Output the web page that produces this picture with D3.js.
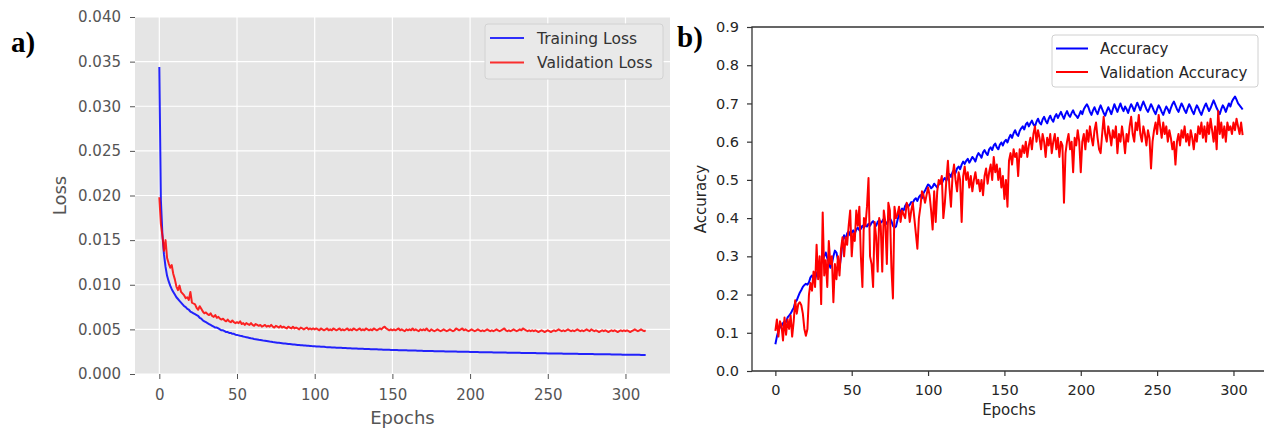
<!DOCTYPE html>
<html>
<head>
<meta charset="utf-8">
<script src="https://cdn.jsdelivr.net/npm/d3@7"></script>
<style>
  body { margin: 0; background: #fff; }
  svg { display: block; }
</style>
</head>
<body>
<svg id="chart" width="1264" height="431"></svg>
<script>
// ---- Panel a: loss per epoch ----
const trainLoss = [
  0.0344, 0.0195, 0.0156, 0.0134, 0.0120, 0.0110, 0.0104, 0.0099, 0.0095, 0.0092,
  0.0089, 0.0086, 0.0084, 0.0082, 0.0080, 0.0078, 0.0076, 0.0075, 0.0073, 0.0072,
  0.0070, 0.0069, 0.0068, 0.0067, 0.0066, 0.0065, 0.0063, 0.0062, 0.0060, 0.0059,
  0.0058, 0.0057, 0.0056, 0.0055, 0.0054, 0.0053, 0.0052, 0.0052, 0.0051, 0.0050,
  0.0049, 0.0049, 0.0048, 0.0047, 0.0047, 0.0046, 0.0046, 0.0045, 0.0045, 0.0044,
  0.00438, 0.00433, 0.00428, 0.00425, 0.00420, 0.00416, 0.00412, 0.00408, 0.00404, 0.00400,
  0.00397, 0.00393, 0.00390, 0.00387, 0.00383, 0.00380, 0.00377, 0.00374, 0.00372, 0.00369,
  0.00366, 0.00363, 0.00361, 0.00358, 0.00356, 0.00354, 0.00351, 0.00349, 0.00347, 0.00345,
  0.00343, 0.00341, 0.00339, 0.00337, 0.00335, 0.00333, 0.00331, 0.00330, 0.00328, 0.00326,
  0.00325, 0.00323, 0.00322, 0.00320, 0.00319, 0.00317, 0.00316, 0.00315, 0.00313, 0.00312,
  0.00311, 0.00309, 0.00308, 0.00307, 0.00306, 0.00305, 0.00304, 0.00302, 0.00301, 0.00300,
  0.00299, 0.00298, 0.00297, 0.00296, 0.00295, 0.00294, 0.00293, 0.00293, 0.00292, 0.00291,
  0.00290, 0.00289, 0.00288, 0.00288, 0.00287, 0.00286, 0.00285, 0.00285, 0.00284, 0.00283,
  0.00282, 0.00282, 0.00281, 0.00280, 0.00280, 0.00279, 0.00278, 0.00278, 0.00277, 0.00276,
  0.00276, 0.00275, 0.00274, 0.00274, 0.00273, 0.00273, 0.00272, 0.00271, 0.00271, 0.00270,
  0.00270, 0.00269, 0.00268, 0.00268, 0.00267, 0.00267, 0.00266, 0.00266, 0.00265, 0.00265,
  0.00264, 0.00264, 0.00263, 0.00263, 0.00262, 0.00262, 0.00261, 0.00261, 0.00260, 0.00260,
  0.00259, 0.00259, 0.00258, 0.00258, 0.00258, 0.00257, 0.00257, 0.00256, 0.00256, 0.00255,
  0.00255, 0.00255, 0.00254, 0.00254, 0.00253, 0.00253, 0.00253, 0.00252, 0.00252, 0.00251,
  0.00251, 0.00251, 0.00250, 0.00250, 0.00250, 0.00249, 0.00249, 0.00248, 0.00248, 0.00248,
  0.00247, 0.00247, 0.00247, 0.00246, 0.00246, 0.00246, 0.00245, 0.00245, 0.00245, 0.00244,
  0.00244, 0.00244, 0.00243, 0.00243, 0.00243, 0.00242, 0.00242, 0.00242, 0.00241, 0.00241,
  0.00241, 0.00240, 0.00240, 0.00240, 0.00239, 0.00239, 0.00239, 0.00238, 0.00238, 0.00238,
  0.00237, 0.00237, 0.00237, 0.00236, 0.00236, 0.00236, 0.00236, 0.00235, 0.00235, 0.00235,
  0.00234, 0.00234, 0.00234, 0.00233, 0.00233, 0.00233, 0.00232, 0.00232, 0.00232, 0.00232,
  0.00231, 0.00231, 0.00231, 0.00230, 0.00230, 0.00230, 0.00229, 0.00229, 0.00229, 0.00229,
  0.00228, 0.00228, 0.00228, 0.00227, 0.00227, 0.00227, 0.00226, 0.00226, 0.00226, 0.00226,
  0.00225, 0.00225, 0.00225, 0.00224, 0.00224, 0.00224, 0.00224, 0.00223, 0.00223, 0.00223,
  0.00222, 0.00222, 0.00222, 0.00222, 0.00221, 0.00221, 0.00221, 0.00220, 0.00220, 0.00220,
  0.00220, 0.00219, 0.00219, 0.00219, 0.00219, 0.00218, 0.00218, 0.00218, 0.00217, 0.00217,
  0.00217, 0.00217, 0.00216, 0.00216, 0.00216, 0.00216, 0.00215, 0.00215, 0.00215, 0.00215,
  0.00214, 0.00214, 0.00214, 0.00214
];

const valLoss = [
  0.0198, 0.0168, 0.0155, 0.0138, 0.0150, 0.0130, 0.0124, 0.0119, 0.0122, 0.0112,
  0.0106, 0.0098, 0.0094, 0.0099, 0.0092, 0.0090, 0.0088, 0.0085, 0.0086, 0.0083,
  0.0092, 0.0080, 0.0079, 0.0078, 0.0074, 0.0072, 0.0076, 0.0073, 0.0070, 0.0068,
  0.0069, 0.0067, 0.0066, 0.0068, 0.0065, 0.0064, 0.0066, 0.0063, 0.0064, 0.0062,
  0.0061, 0.0062, 0.0060, 0.0059, 0.0061, 0.0059, 0.0058, 0.0060, 0.0058, 0.0057,
  0.0058, 0.0057, 0.0059, 0.0056, 0.0057, 0.0055, 0.0057, 0.0056, 0.0055, 0.0057,
  0.0055, 0.0054, 0.0056, 0.0055, 0.0054, 0.0055, 0.0053, 0.0054, 0.0055, 0.0053,
  0.0054, 0.0053, 0.0055, 0.0053, 0.0052, 0.0054, 0.0053, 0.0052, 0.0054, 0.0052,
  0.0053, 0.0052, 0.0051, 0.0053, 0.0052, 0.0051, 0.0053, 0.0051, 0.0052, 0.0051,
  0.0050, 0.0052, 0.0051, 0.0050, 0.0051, 0.0052, 0.0050, 0.0051, 0.0050, 0.0051,
  0.0050, 0.0051, 0.0050, 0.0049, 0.0051, 0.0050, 0.0049, 0.0050, 0.0051, 0.0049,
  0.0050, 0.0049, 0.0051, 0.0050, 0.0049, 0.0050, 0.0051, 0.0049, 0.0050, 0.0049,
  0.0050, 0.0051, 0.0049, 0.0050, 0.0049, 0.0051, 0.0050, 0.0049, 0.0050, 0.0051,
  0.0049, 0.0050, 0.0049, 0.0051, 0.0050, 0.0049, 0.0050, 0.0049, 0.0051, 0.0050,
  0.0049, 0.0050, 0.0051, 0.0050, 0.0052, 0.0053, 0.0051, 0.0050, 0.0049, 0.0050,
  0.0049, 0.0050, 0.0049, 0.0050, 0.0051, 0.0049, 0.0050, 0.0049, 0.0048, 0.0050,
  0.0049, 0.0050, 0.0049, 0.0051, 0.0049, 0.0050, 0.0049, 0.0048, 0.0050, 0.0049,
  0.0050, 0.0049, 0.0051, 0.0049, 0.0048, 0.0050, 0.0049, 0.0048, 0.0049, 0.0050,
  0.0049, 0.0048, 0.0049, 0.0050, 0.0049, 0.0048, 0.0049, 0.0050, 0.0049, 0.0048,
  0.0049, 0.0051, 0.0050, 0.0049, 0.0050, 0.0051, 0.0049, 0.0050, 0.0049, 0.0048,
  0.0049, 0.0050, 0.0049, 0.0048, 0.0049, 0.0050, 0.0049, 0.0048, 0.0049, 0.0048,
  0.0049, 0.0050, 0.0049, 0.0048, 0.0049, 0.0048, 0.0049, 0.0050, 0.0049, 0.0048,
  0.0049, 0.0050, 0.0051, 0.0049, 0.0048, 0.0049, 0.0048, 0.0049, 0.0050, 0.0049,
  0.0048, 0.0049, 0.0050, 0.0049, 0.0051, 0.0050, 0.0049, 0.0048, 0.0049, 0.0048,
  0.0049, 0.0048, 0.0049, 0.0048, 0.0047, 0.0048, 0.0049, 0.0048, 0.0047, 0.0048,
  0.0049, 0.0048, 0.0047, 0.0048, 0.0049, 0.0048, 0.0049, 0.0050, 0.0049, 0.0048,
  0.0049, 0.0048, 0.0049, 0.0050, 0.0049, 0.0048, 0.0049, 0.0048, 0.0049, 0.0050,
  0.0049, 0.0048, 0.0049, 0.0048, 0.0049, 0.0050, 0.0049, 0.0048, 0.0050, 0.0049,
  0.0048, 0.0049, 0.0048, 0.0047, 0.0048, 0.0049, 0.0048, 0.0049, 0.0048, 0.0047,
  0.0048, 0.0049, 0.0048, 0.0049, 0.0048, 0.0047, 0.0048, 0.0049, 0.0048, 0.0049,
  0.0048, 0.0049, 0.0048, 0.0047, 0.0048, 0.0049, 0.0050, 0.0049, 0.0048, 0.0049,
  0.0050, 0.0049, 0.0048, 0.0049
];

// ---- Panel b: accuracy per epoch ----
const trainAcc = [
  0.070, 0.090, 0.105, 0.115, 0.118, 0.125, 0.130, 0.128, 0.140, 0.145,
  0.150, 0.158, 0.165, 0.180, 0.185, 0.195, 0.205, 0.212, 0.220, 0.225,
  0.228, 0.226, 0.232, 0.245, 0.250, 0.242, 0.238, 0.255, 0.262, 0.270,
  0.280, 0.292, 0.300, 0.310, 0.295, 0.285, 0.270, 0.280, 0.300, 0.315,
  0.310, 0.290, 0.270, 0.300, 0.340, 0.355, 0.345, 0.360, 0.365, 0.355,
  0.362, 0.368, 0.360, 0.370, 0.375, 0.368, 0.372, 0.380, 0.375, 0.382,
  0.378, 0.385, 0.380, 0.388, 0.392, 0.385, 0.380, 0.390, 0.395, 0.388,
  0.392, 0.398, 0.390, 0.385, 0.395, 0.400, 0.392, 0.380, 0.375, 0.378,
  0.395, 0.410, 0.418, 0.425, 0.420, 0.432, 0.438, 0.430, 0.435, 0.442,
  0.440, 0.448, 0.452, 0.445, 0.455, 0.460, 0.452, 0.465, 0.472, 0.480,
  0.488, 0.485, 0.478, 0.482, 0.490, 0.485, 0.480, 0.488, 0.495, 0.490,
  0.500, 0.505, 0.498, 0.510, 0.515, 0.508, 0.520, 0.525, 0.518, 0.530,
  0.535, 0.528, 0.540, 0.548, 0.542, 0.550, 0.555, 0.545, 0.552, 0.560,
  0.555, 0.548, 0.562, 0.570, 0.565, 0.558, 0.572, 0.578, 0.570, 0.565,
  0.580, 0.585, 0.578, 0.590, 0.595, 0.585, 0.580, 0.592, 0.598, 0.590,
  0.600, 0.605, 0.598, 0.610, 0.618, 0.610, 0.622, 0.630, 0.620, 0.615,
  0.628, 0.635, 0.640, 0.632, 0.645, 0.650, 0.640, 0.648, 0.655, 0.645,
  0.640, 0.652, 0.660, 0.650, 0.645, 0.658, 0.665, 0.655, 0.648, 0.660,
  0.668, 0.658, 0.652, 0.665, 0.672, 0.662, 0.670, 0.678, 0.668, 0.660,
  0.672, 0.680, 0.670, 0.665, 0.675, 0.682, 0.672, 0.668, 0.662, 0.670,
  0.680, 0.672, 0.685, 0.692, 0.698, 0.690, 0.678, 0.670, 0.682, 0.690,
  0.680, 0.672, 0.685, 0.695, 0.685, 0.675, 0.668, 0.680, 0.690, 0.682,
  0.672, 0.685, 0.698, 0.688, 0.678, 0.690, 0.700, 0.688, 0.680, 0.692,
  0.685, 0.675, 0.688, 0.698, 0.690, 0.680, 0.692, 0.702, 0.692, 0.682,
  0.695, 0.705, 0.695, 0.685, 0.678, 0.688, 0.698, 0.690, 0.680, 0.672,
  0.685, 0.695, 0.688, 0.678, 0.670, 0.682, 0.692, 0.685, 0.675, 0.688,
  0.698, 0.705, 0.695, 0.685, 0.678, 0.690, 0.700, 0.692, 0.682, 0.675,
  0.688, 0.698, 0.690, 0.680, 0.672, 0.685, 0.695, 0.688, 0.678, 0.670,
  0.682, 0.692, 0.700, 0.690, 0.680, 0.688, 0.698, 0.708, 0.698, 0.688,
  0.680, 0.672, 0.685, 0.695, 0.688, 0.678, 0.690, 0.700, 0.692, 0.705,
  0.712, 0.718, 0.710, 0.700, 0.695, 0.690, 0.684
];

const valAcc = [
  0.105, 0.135, 0.090, 0.130, 0.120, 0.080, 0.140, 0.095, 0.135, 0.110,
  0.145, 0.090, 0.130, 0.185, 0.150, 0.175, 0.180, 0.172, 0.150, 0.110,
  0.092, 0.110, 0.200, 0.230, 0.210, 0.260, 0.220, 0.330, 0.240, 0.300,
  0.175, 0.415, 0.250, 0.290, 0.220, 0.340, 0.280, 0.300, 0.180, 0.280,
  0.240, 0.300, 0.250, 0.320, 0.350, 0.300, 0.350, 0.330, 0.380, 0.420,
  0.300, 0.360, 0.340, 0.420, 0.380, 0.430, 0.300, 0.220, 0.400, 0.380,
  0.430, 0.505, 0.300, 0.280, 0.220, 0.390, 0.350, 0.260, 0.400, 0.380,
  0.260, 0.420, 0.390, 0.280, 0.440, 0.420, 0.270, 0.190, 0.430, 0.400,
  0.410, 0.430, 0.390, 0.420, 0.410, 0.400, 0.440, 0.430, 0.390, 0.420,
  0.440, 0.400, 0.360, 0.320, 0.400, 0.430, 0.470, 0.460, 0.440, 0.460,
  0.480, 0.460, 0.420, 0.370, 0.470, 0.390, 0.470, 0.500, 0.490, 0.510,
  0.400, 0.440, 0.500, 0.550, 0.480, 0.430, 0.510, 0.540, 0.500, 0.470,
  0.520, 0.500, 0.390, 0.510, 0.535, 0.500, 0.520, 0.480, 0.510, 0.470,
  0.500, 0.520, 0.490, 0.500, 0.470, 0.500, 0.460, 0.510, 0.530, 0.490,
  0.520, 0.540, 0.500, 0.560, 0.520, 0.540, 0.500, 0.530, 0.480, 0.510,
  0.450, 0.500, 0.430, 0.550, 0.570, 0.540, 0.580, 0.560, 0.570, 0.510,
  0.580, 0.560, 0.590, 0.570, 0.600, 0.560, 0.590, 0.610, 0.580, 0.620,
  0.640, 0.600, 0.630, 0.610, 0.580, 0.620, 0.600, 0.560, 0.610, 0.590,
  0.620, 0.570, 0.600, 0.620, 0.580, 0.610, 0.560, 0.600, 0.590, 0.440,
  0.570, 0.600, 0.620, 0.580, 0.600, 0.520, 0.610, 0.590, 0.630, 0.600,
  0.520, 0.600, 0.620, 0.580, 0.630, 0.600, 0.640, 0.610, 0.590, 0.630,
  0.650, 0.610, 0.580, 0.570, 0.620, 0.665, 0.620, 0.600, 0.640, 0.620,
  0.590, 0.630, 0.610, 0.640, 0.570, 0.620, 0.600, 0.640, 0.610, 0.570,
  0.620, 0.600, 0.640, 0.665, 0.620, 0.600, 0.650, 0.630, 0.670, 0.620,
  0.600, 0.640, 0.620, 0.590, 0.630, 0.610, 0.530, 0.600, 0.630, 0.650,
  0.620, 0.670, 0.640, 0.610, 0.650, 0.620, 0.640, 0.600, 0.630, 0.610,
  0.580, 0.600, 0.540, 0.600, 0.620, 0.590, 0.630, 0.610, 0.640, 0.600,
  0.620, 0.590, 0.630, 0.610, 0.580, 0.620, 0.600, 0.640, 0.620, 0.650,
  0.610, 0.640, 0.600, 0.650, 0.620, 0.660, 0.630, 0.600, 0.640, 0.580,
  0.680, 0.620, 0.650, 0.610, 0.640, 0.600, 0.650, 0.630, 0.640, 0.620,
  0.650, 0.630, 0.660, 0.640, 0.620, 0.650, 0.617
];

const epochTicks = [0, 50, 100, 150, 200, 250, 300];
const lossTicks = [0, 0.005, 0.010, 0.015, 0.020, 0.025, 0.030, 0.035, 0.040];
const accTicks = [0, 0.1, 0.2, 0.3, 0.4, 0.5, 0.6, 0.7, 0.8, 0.9];

const lossSeries = [
  { name: "Training Loss", values: trainLoss, color: "#0000ff" },
  { name: "Validation Loss", values: valLoss, color: "#ff0000" }
];
const accSeries = [
  { name: "Accuracy", values: trainAcc, color: "#0000ff" },
  { name: "Validation Accuracy", values: valAcc, color: "#ff0000" }
];

const svg = d3.select("#chart");
const sans = "'DejaVu Sans', sans-serif";

// Matplotlib-style 5% padding around the epoch range
function epochDomain(n) {
  const last = n - 1;
  return [-last * 0.05, last * 1.05];
}

// ================= Panel a (ggplot style) =================
const A = { left: 135, right: 670, top: 17, bottom: 374 };
const xa = d3.scaleLinear().domain(epochDomain(trainLoss.length)).range([A.left, A.right]);
const ya = d3.scaleLinear().domain([0, 0.04]).range([A.bottom, A.top]);

const ga = svg.append("g");
ga.append("rect")
  .attr("x", A.left).attr("y", A.top)
  .attr("width", A.right - A.left).attr("height", A.bottom - A.top)
  .attr("fill", "#e5e5e5");

// white grid
ga.append("g").selectAll("line").data(epochTicks).join("line")
  .attr("x1", d => xa(d)).attr("x2", d => xa(d))
  .attr("y1", A.top).attr("y2", A.bottom)
  .attr("stroke", "#fff").attr("stroke-width", 1.2);
ga.append("g").selectAll("line").data(lossTicks).join("line")
  .attr("x1", A.left).attr("x2", A.right)
  .attr("y1", d => ya(d)).attr("y2", d => ya(d))
  .attr("stroke", "#fff").attr("stroke-width", 1.2);

const axA_x = ga.append("g")
  .attr("transform", `translate(0,${A.bottom})`)
  .call(d3.axisBottom(xa).tickValues(epochTicks).tickFormat(d3.format("d")).tickSize(5).tickPadding(10));
const axA_y = ga.append("g")
  .attr("transform", `translate(${A.left},0)`)
  .call(d3.axisLeft(ya).tickValues(lossTicks).tickFormat(d3.format(".3f")).tickSize(5).tickPadding(9));
[axA_x, axA_y].forEach(ax => {
  ax.select(".domain").remove();
  ax.selectAll(".tick line").attr("stroke", "#555").attr("stroke-width", 1);
  ax.selectAll(".tick text").attr("fill", "#555").style("font-family", sans).style("font-size", "15px");
});

const lineA = d3.line().x((d, i) => xa(i)).y(d => ya(d));
ga.append("g").selectAll("path").data(lossSeries).join("path")
  .attr("d", s => lineA(s.values))
  .attr("fill", "none")
  .attr("stroke", s => s.color)
  .attr("stroke-width", 2)
  .attr("stroke-linejoin", "round")
  .attr("opacity", 0.85);

ga.append("text")
  .attr("x", (A.left + A.right) / 2).attr("y", 424)
  .attr("text-anchor", "middle")
  .attr("fill", "#555").style("font-family", sans).style("font-size", "18px")
  .text("Epochs");
ga.append("text")
  .attr("transform", `translate(66,${(A.top + A.bottom) / 2}) rotate(-90)`)
  .attr("text-anchor", "middle")
  .attr("fill", "#555").style("font-family", sans).style("font-size", "18px")
  .text("Loss");

// legend a
const legA = ga.append("g");
legA.append("rect")
  .attr("x", 485).attr("y", 24).attr("width", 178).attr("height", 55)
  .attr("rx", 3).attr("fill", "#e9e9e9").attr("stroke", "#d2d2d2").attr("stroke-width", 1);
lossSeries.forEach((s, i) => {
  const cy = 38 + i * 24.5;
  legA.append("line").attr("x1", 490).attr("x2", 524).attr("y1", cy).attr("y2", cy)
    .attr("stroke", s.color).attr("stroke-width", 2).attr("opacity", 0.8);
  legA.append("text").attr("x", 537).attr("y", cy + 5.5)
    .attr("fill", "#333").style("font-family", sans).style("font-size", "15.5px")
    .text(s.name);
});

ga.append("text")
  .attr("x", 11).attr("y", 52)
  .style("font-family", "'Liberation Serif', 'Times New Roman', serif")
  .style("font-weight", "bold").style("font-size", "29px")
  .attr("fill", "#000")
  .text("a)");

// ================= Panel b (classic style) =================
const B = { left: 752, right: 1266, top: 27, bottom: 371 };
const xb = d3.scaleLinear().domain(epochDomain(trainAcc.length)).range([B.left, B.right]);
const yb = d3.scaleLinear().domain([0, 0.9]).range([B.bottom, B.top]);

const gb = svg.append("g");
const lineB = d3.line().x((d, i) => xb(i)).y(d => yb(d));
gb.append("g").selectAll("path").data(accSeries).join("path")
  .attr("d", s => lineB(s.values))
  .attr("fill", "none")
  .attr("stroke", s => s.color)
  .attr("stroke-width", 2)
  .attr("stroke-linejoin", "round");

const axB_x = gb.append("g")
  .attr("transform", `translate(0,${B.bottom})`)
  .call(d3.axisBottom(xb).tickValues(epochTicks).tickFormat(d3.format("d")).tickSize(5).tickPadding(9));
const axB_y = gb.append("g")
  .attr("transform", `translate(${B.left},0)`)
  .call(d3.axisLeft(yb).tickValues(accTicks).tickFormat(d3.format(".1f")).tickSize(5).tickPadding(8));
[axB_x, axB_y].forEach(ax => {
  ax.select(".domain").remove();
  ax.selectAll(".tick line").attr("stroke", "#333").attr("stroke-width", 1.2);
  ax.selectAll(".tick text").attr("fill", "#262626").style("font-family", sans).style("font-size", "14.5px");
});

// spines: left, bottom, top (right one lies past the page edge)
gb.append("path")
  .attr("d", `M${B.right},${B.top}H${B.left}V${B.bottom}H${B.right}`)
  .attr("fill", "none").attr("stroke", "#333").attr("stroke-width", 1.3);

gb.append("text")
  .attr("x", (B.left + B.right) / 2).attr("y", 415)
  .attr("text-anchor", "middle")
  .attr("fill", "#262626").style("font-family", sans).style("font-size", "15px")
  .text("Epochs");
gb.append("text")
  .attr("transform", `translate(706,${(B.top + B.bottom) / 2}) rotate(-90)`)
  .attr("text-anchor", "middle")
  .attr("fill", "#262626").style("font-family", sans).style("font-size", "15px")
  .text("Accuracy");

// legend b
const legB = gb.append("g");
legB.append("rect")
  .attr("x", 1052).attr("y", 35).attr("width", 206).attr("height", 52)
  .attr("rx", 3).attr("fill", "#fff").attr("fill-opacity", 0.85)
  .attr("stroke", "#d0d0d0").attr("stroke-width", 1);
accSeries.forEach((s, i) => {
  const cy = 48.5 + i * 23.5;
  legB.append("line").attr("x1", 1056).attr("x2", 1088).attr("y1", cy).attr("y2", cy)
    .attr("stroke", s.color).attr("stroke-width", 2);
  legB.append("text").attr("x", 1100).attr("y", cy + 5.5)
    .attr("fill", "#262626").style("font-family", sans).style("font-size", "15px")
    .text(s.name);
});

gb.append("text")
  .attr("x", 677).attr("y", 47)
  .style("font-family", "'Liberation Serif', 'Times New Roman', serif")
  .style("font-weight", "bold").style("font-size", "29px")
  .attr("fill", "#000")
  .text("b)");
</script>
</body>
</html>
